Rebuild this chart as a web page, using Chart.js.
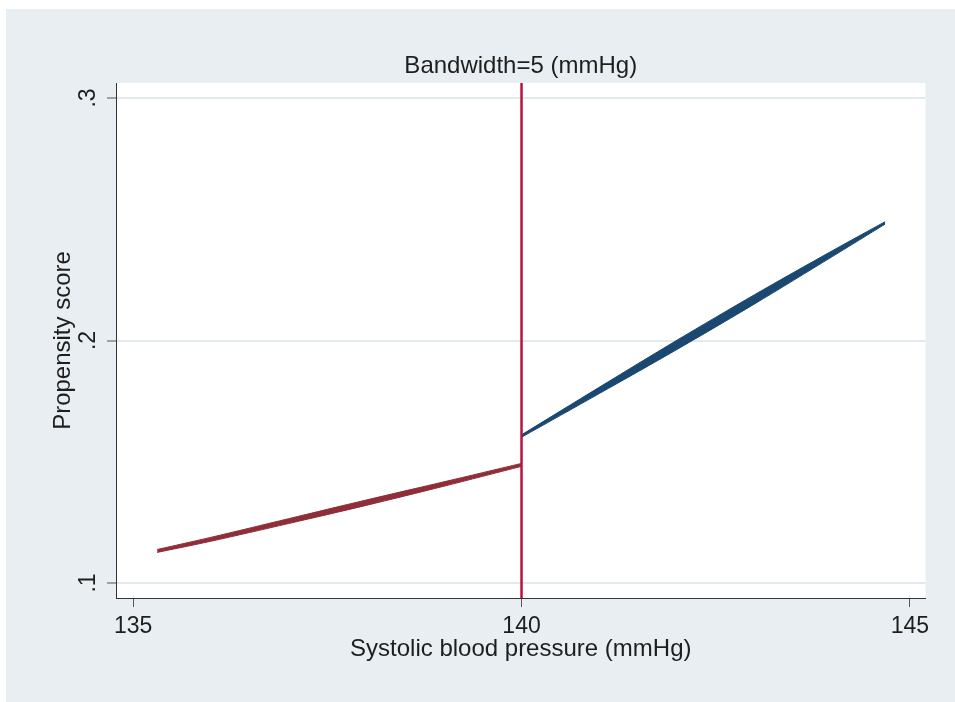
<!DOCTYPE html>
<html>
<head>
<meta charset="utf-8">
<title>Propensity score around the 140 mmHg cutoff</title>
<script src="https://cdn.jsdelivr.net/npm/chart.js@4.4.0/dist/chart.umd.min.js"></script>
<style>
  html, body { margin: 0; padding: 0; background: #fff; }
  canvas { display: block; }
</style>
</head>
<body>
<canvas id="rd-chart" width="955" height="702"></canvas>
<script>
// Axes
const CUTOFF = 140;
const xMin = 134.78, xMax = 145.2;
const yMin = 0.0938, yMax = 0.3062;
const xTicks = [135, 140, 145];
const yTicks = [0.1, 0.2, 0.3];
const yTickLabels = ['.1', '.2', '.3'];
const TITLE = 'Bandwidth=5 (mmHg)';

// Fitted band below the cutoff (lower / upper edge)
const belowX = [135.31, 136, 137, 138, 139, 140];
const belowLow = [0.1126, 0.1172, 0.1245, 0.1320, 0.1399, 0.1481];
const belowHigh = [0.1138, 0.1188, 0.1265, 0.1342, 0.1417, 0.1493];

// Fitted band above the cutoff
const aboveX = [140, 141, 142, 143, 144, 144.68];
const aboveLow = [0.1601, 0.1781, 0.1963, 0.2151, 0.2346, 0.2480];
const aboveHigh = [0.1611, 0.1807, 0.2001, 0.2189, 0.2370, 0.2490];

const RED = '#8f2d38';
const NAVY = '#1b4870';
const CUT_COLOR = '#b8143f';
const TEXT = '#1e1e1e';
const FONT = '"Liberation Sans", Arial, sans-serif';

const pts = (xs, ys) => xs.map((x, i) => ({ x, y: ys[i] }));

Chart.defaults.font.family = FONT;
Chart.defaults.color = TEXT;

// panel + white plot region
const backdrop = {
  id: 'backdrop',
  beforeDraw(chart) {
    const { ctx, chartArea: a } = chart;
    ctx.save();
    ctx.fillStyle = '#ffffff';
    ctx.fillRect(0, 0, chart.width, chart.height);
    ctx.fillStyle = '#e8eef1';
    ctx.fillRect(6, 9, chart.width - 6, chart.height - 9);
    ctx.fillStyle = '#ffffff';
    ctx.fillRect(a.left, a.top, a.right - a.left, a.bottom - a.top);
    ctx.restore();
  },
};

// title centred over the plot region, rotated y tick labels (Stata style)
const extraText = {
  id: 'extraText',
  afterDraw(chart) {
    const { ctx, chartArea: a } = chart;
    const ys = chart.scales.y;
    ctx.save();
    ctx.fillStyle = TEXT;
    ctx.textAlign = 'center';
    ctx.textBaseline = 'middle';
    ctx.font = '24px ' + FONT;
    ctx.fillText(TITLE, (a.left + a.right) / 2, 66);
    ctx.font = '23px ' + FONT;
    yTicks.forEach((v, i) => {
      ctx.save();
      ctx.translate(89, ys.getPixelForValue(v));
      ctx.rotate(-Math.PI / 2);
      ctx.fillText(yTickLabels[i], 0, 0);
      ctx.restore();
    });
    ctx.restore();
  },
};

new Chart(document.getElementById('rd-chart'), {
  type: 'line',
  data: {
    datasets: [
      {
        label: 'Cutoff',
        data: [{ x: CUTOFF, y: yMin }, { x: CUTOFF, y: yMax }],
        borderColor: CUT_COLOR,
        borderWidth: 2.5,
        pointRadius: 0,
        fill: false,
      },
      {
        label: 'Below low',
        data: pts(belowX, belowLow),
        borderColor: RED,
        borderWidth: 1,
        pointRadius: 0,
        tension: 0.3,
        fill: false,
      },
      {
        label: 'Below high',
        data: pts(belowX, belowHigh),
        borderColor: RED,
        backgroundColor: RED,
        borderWidth: 1,
        pointRadius: 0,
        tension: 0.3,
        fill: '-1',
      },
      {
        label: 'Above low',
        data: pts(aboveX, aboveLow),
        borderColor: NAVY,
        borderWidth: 1,
        pointRadius: 0,
        tension: 0.3,
        fill: false,
      },
      {
        label: 'Above high',
        data: pts(aboveX, aboveHigh),
        borderColor: NAVY,
        backgroundColor: NAVY,
        borderWidth: 1,
        pointRadius: 0,
        tension: 0.3,
        fill: '-1',
      },
    ],
  },
  options: {
    responsive: false,
    animation: false,
    devicePixelRatio: 1,
    layout: { padding: { left: 0, right: 29.5, top: 83, bottom: 0 } },
    plugins: {
      legend: { display: false },
      tooltip: { enabled: false },
      title: { display: false },
    },
    scales: {
      x: {
        type: 'linear',
        min: xMin,
        max: xMax,
        afterBuildTicks: (s) => { s.ticks = xTicks.map((v) => ({ value: v })); },
        afterFit: (s) => { s.height = 104; },
        ticks: {
          font: { size: 23 },
          color: TEXT,
          padding: 5.7,
          maxRotation: 0,
          callback: (v) => String(v),
        },
        grid: {
          drawOnChartArea: false,
          drawTicks: true,
          tickLength: 9,
          tickColor: '#555',
          tickWidth: 1,
        },
        border: { display: true, color: '#333', width: 1 },
        title: {
          display: true,
          text: 'Systolic blood pressure (mmHg)',
          color: TEXT,
          font: { size: 24 },
          padding: { top: 0, bottom: 38.6 },
        },
      },
      y: {
        type: 'linear',
        min: yMin,
        max: yMax,
        afterBuildTicks: (s) => { s.ticks = yTicks.map((v) => ({ value: v })); },
        afterFit: (s) => { s.width = 116; },
        ticks: { display: false },
        grid: {
          color: '#e2eaee',
          lineWidth: 2,
          drawTicks: true,
          tickLength: 9,
          tickColor: '#555',
          tickWidth: 1,
        },
        border: { display: true, color: '#333', width: 1 },
        title: {
          display: true,
          text: 'Propensity score',
          color: TEXT,
          font: { size: 24 },
          padding: { top: 48.6, bottom: 0 },
        },
      },
    },
  },
  plugins: [backdrop, extraText],
});
</script>
</body>
</html>
